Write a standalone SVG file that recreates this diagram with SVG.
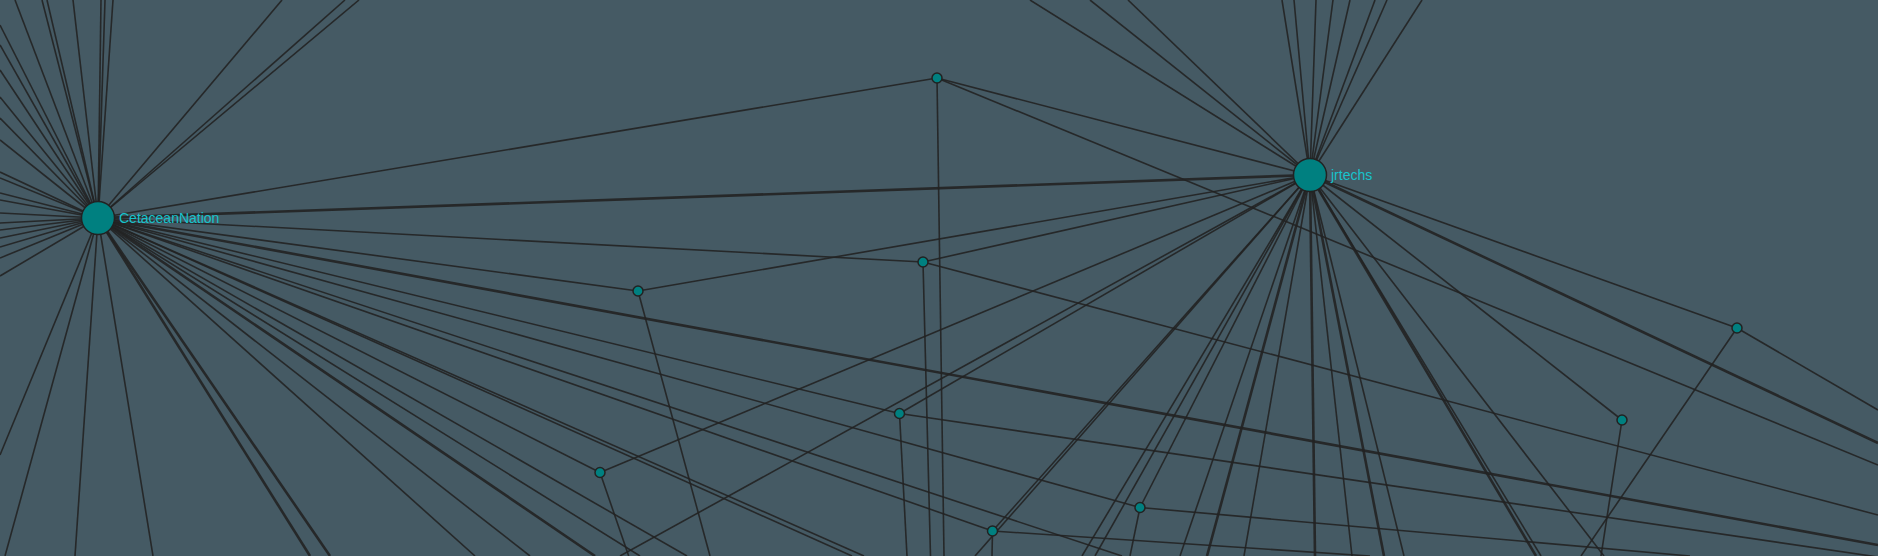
<svg xmlns="http://www.w3.org/2000/svg" width="1878" height="556" viewBox="0 0 1878 556">
<style>
.bg{fill:#455a64}
.links line{stroke:#222;stroke-opacity:.9;stroke-width:1.6}
.links line.t{stroke-width:2.6}
.node circle{fill:#008080;stroke:#222;stroke-width:1.5}
.node text{fill:#17c3cc;font-family:"Liberation Sans",Arial,sans-serif;font-size:14px}
</style>
<rect class="bg" x="0" y="0" width="1878" height="556"/>
<g id="links" class="links">
<!-- CetaceanNation: left edge -->
<line x1="98" y1="218" x2="0" y2="25"/>
<line x1="98" y1="218" x2="0" y2="45"/>
<line x1="98" y1="218" x2="0" y2="70"/>
<line x1="98" y1="218" x2="0" y2="97"/>
<line x1="98" y1="218" x2="0" y2="118"/>
<line x1="98" y1="218" x2="0" y2="140"/>
<line x1="98" y1="218" x2="0" y2="172"/>
<line x1="98" y1="218" x2="0" y2="178"/>
<line x1="98" y1="218" x2="0" y2="193"/>
<line x1="98" y1="218" x2="0" y2="200"/>
<line x1="98" y1="218" x2="0" y2="213"/>
<line x1="98" y1="218" x2="0" y2="223"/>
<line x1="98" y1="218" x2="0" y2="230"/>
<line x1="98" y1="218" x2="0" y2="238"/>
<line x1="98" y1="218" x2="0" y2="247"/>
<line x1="98" y1="218" x2="0" y2="258"/>
<line x1="98" y1="218" x2="0" y2="276"/>
<line x1="98" y1="218" x2="0" y2="455"/>
<!-- CetaceanNation: top edge -->
<line x1="98" y1="218" x2="15" y2="0"/>
<line x1="98" y1="218" x2="42" y2="0"/>
<line x1="98" y1="218" x2="47" y2="0"/>
<line x1="98" y1="218" x2="73" y2="0"/>
<line x1="98" y1="218" x2="101" y2="0"/>
<line x1="98" y1="218" x2="105" y2="0"/>
<line x1="98" y1="218" x2="113" y2="0"/>
<line x1="98" y1="218" x2="282" y2="0"/>
<line x1="98" y1="218" x2="345" y2="0"/>
<line x1="98" y1="218" x2="359" y2="0"/>
<!-- CetaceanNation: bottom edge -->
<line x1="98" y1="218" x2="5" y2="556"/>
<line x1="98" y1="218" x2="75" y2="556"/>
<line x1="98" y1="218" x2="153" y2="556"/>
<line class="t" x1="98" y1="218" x2="310" y2="556"/>
<line class="t" x1="98" y1="218" x2="330" y2="556"/>
<line x1="98" y1="218" x2="475" y2="556"/>
<line x1="98" y1="218" x2="530" y2="556"/>
<line class="t" x1="98" y1="218" x2="595" y2="556"/>
<line x1="98" y1="218" x2="640" y2="556"/>
<line x1="98" y1="218" x2="687" y2="556"/>
<line x1="98" y1="218" x2="852" y2="556"/>
<line x1="98" y1="218" x2="864" y2="556"/>
<line x1="98" y1="218" x2="1122" y2="556"/>
<!-- CetaceanNation: to nodes / right -->
<line class="t" x1="98" y1="218" x2="1310" y2="175"/>
<line x1="98" y1="218" x2="937" y2="78"/>
<line x1="98" y1="218" x2="923" y2="262"/>
<line x1="98" y1="218" x2="638" y2="291"/>
<line x1="98" y1="218" x2="899.5" y2="413.5"/>
<line x1="98" y1="218" x2="600" y2="472.5"/>
<line x1="98" y1="218" x2="1140" y2="507.5"/>
<line x1="98" y1="218" x2="992.5" y2="531"/>
<line class="t" x1="98" y1="218" x2="1878" y2="545"/>
<!-- jrtechs: top edge -->
<line x1="1310" y1="175" x2="1030" y2="0"/>
<line x1="1310" y1="175" x2="1090" y2="0"/>
<line x1="1310" y1="175" x2="1128" y2="0"/>
<line x1="1310" y1="175" x2="1282" y2="0"/>
<line x1="1310" y1="175" x2="1294" y2="0"/>
<line x1="1310" y1="175" x2="1316" y2="0"/>
<line x1="1310" y1="175" x2="1333" y2="0"/>
<line x1="1310" y1="175" x2="1350" y2="0"/>
<line x1="1310" y1="175" x2="1375" y2="0"/>
<line x1="1310" y1="175" x2="1387" y2="0"/>
<line x1="1310" y1="175" x2="1422" y2="0"/>
<!-- jrtechs: to nodes -->
<line x1="1310" y1="175" x2="937" y2="78"/>
<line x1="1310" y1="175" x2="923" y2="262"/>
<line x1="1310" y1="175" x2="638" y2="291"/>
<line x1="1310" y1="175" x2="899.5" y2="413.5"/>
<line x1="1310" y1="175" x2="600" y2="472.5"/>
<line x1="1310" y1="175" x2="1140" y2="507.5"/>
<line x1="1310" y1="175" x2="992.5" y2="531"/>
<line x1="1310" y1="175" x2="1622" y2="420"/>
<line x1="1310" y1="175" x2="1737" y2="328"/>
<line class="t" x1="1310" y1="175" x2="1878" y2="443"/>
<!-- jrtechs: bottom edge -->
<line x1="1310" y1="175" x2="620" y2="556"/>
<line x1="1310" y1="175" x2="975" y2="556"/>
<line x1="1310" y1="175" x2="1082" y2="556"/>
<line x1="1310" y1="175" x2="1095" y2="556"/>
<line x1="1310" y1="175" x2="1180" y2="556"/>
<line class="t" x1="1310" y1="175" x2="1207" y2="556"/>
<line x1="1310" y1="175" x2="1244" y2="556"/>
<line class="t" x1="1310" y1="175" x2="1315" y2="556"/>
<line x1="1310" y1="175" x2="1352" y2="556"/>
<line class="t" x1="1310" y1="175" x2="1384" y2="556"/>
<line x1="1310" y1="175" x2="1404" y2="556"/>
<line class="t" x1="1310" y1="175" x2="1536" y2="556"/>
<line x1="1310" y1="175" x2="1541" y2="556"/>
<line x1="1310" y1="175" x2="1604" y2="556"/>
<!-- small nodes -->
<line x1="937" y1="78" x2="944" y2="556"/>
<line x1="937" y1="78" x2="1878" y2="465"/>
<line x1="923" y1="262" x2="930.5" y2="556"/>
<line x1="923" y1="262" x2="1878" y2="515"/>
<line x1="638" y1="291" x2="710" y2="556"/>
<line x1="899.5" y1="413.5" x2="907" y2="556"/>
<line x1="899.5" y1="413.5" x2="1878" y2="557"/>
<line x1="600" y1="472.5" x2="628.7" y2="556"/>
<line x1="1140" y1="507.5" x2="1130" y2="556"/>
<line x1="1140" y1="507.5" x2="1690" y2="556"/>
<line x1="992.5" y1="531" x2="992" y2="556"/>
<line x1="992.5" y1="531" x2="1370" y2="556"/>
<line x1="1622" y1="420" x2="1601" y2="556"/>
<line x1="1737" y1="328" x2="1581" y2="556"/>
<line x1="1737" y1="328" x2="1878" y2="410"/>
</g>
<g id="n-cetaceannation" class="node"><circle cx="98" cy="218" r="16.5"/><text x="119" y="223">CetaceanNation</text></g>
<g id="n-jrtechs" class="node"><circle cx="1310" cy="175" r="16.5"/><text x="1331" y="180">jrtechs</text></g>
<g id="n1" class="node"><circle cx="937" cy="78" r="5"/></g>
<g id="n2" class="node"><circle cx="923" cy="262" r="5"/></g>
<g id="n3" class="node"><circle cx="638" cy="291" r="5"/></g>
<g id="n4" class="node"><circle cx="899.5" cy="413.5" r="5"/></g>
<g id="n5" class="node"><circle cx="600" cy="472.5" r="5"/></g>
<g id="n6" class="node"><circle cx="1140" cy="507.5" r="5"/></g>
<g id="n7" class="node"><circle cx="992.5" cy="531" r="5"/></g>
<g id="n8" class="node"><circle cx="1622" cy="420" r="5"/></g>
<g id="n9" class="node"><circle cx="1737" cy="328" r="5"/></g>
</svg>
